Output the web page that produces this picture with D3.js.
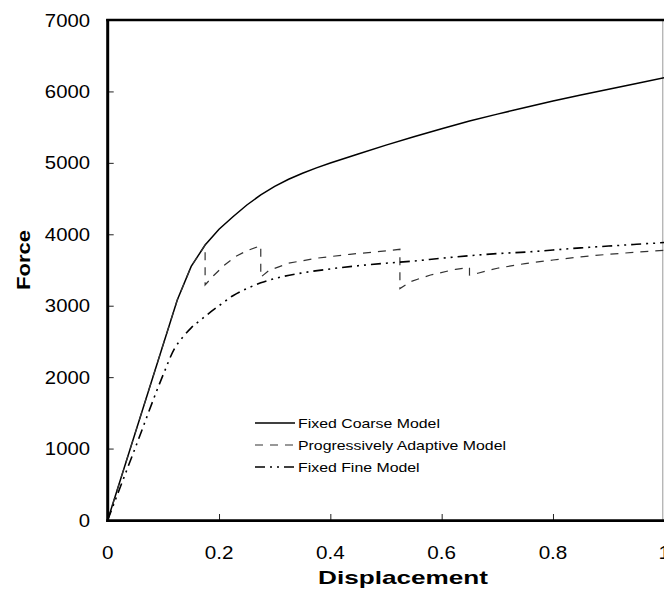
<!DOCTYPE html>
<html>
<head>
<meta charset="utf-8">
<script src="https://cdnjs.cloudflare.com/ajax/libs/d3/7.8.5/d3.min.js"></script>
<style>
  body { margin: 0; background: #fff; }
  text { font-family: "Liberation Sans", Arial, sans-serif; fill: #000; }
</style>
</head>
<body>
<script>
// values
var xTicks = [0, 0.2, 0.4, 0.6, 0.8, 1];
var yTicks = [0, 1000, 2000, 3000, 4000, 5000, 6000, 7000];

var coarseX = [0, 0.125, 0.15, 0.175, 0.2, 0.225, 0.25, 0.275, 0.3, 0.325, 0.35, 0.375, 0.4, 0.45, 0.5, 0.55, 0.6, 0.65, 0.7, 0.75, 0.8, 0.85, 0.9, 0.95, 1];
var coarseY = [0, 3080, 3550, 3850, 4070, 4246, 4410, 4552, 4670, 4770, 4855, 4930, 4998, 5125, 5248, 5365, 5478, 5585, 5682, 5775, 5865, 5950, 6032, 6112, 6192];

var adaptX = [0, 0.125, 0.15, 0.175, 0.175, 0.19, 0.21, 0.23, 0.25, 0.275, 0.275, 0.29, 0.325, 0.375, 0.435, 0.49, 0.525, 0.525, 0.545, 0.58, 0.625, 0.65, 0.65, 0.665, 0.7, 0.75, 0.8, 0.85, 0.9, 0.95, 1];
var adaptY = [0, 3080, 3550, 3850, 3290, 3420, 3570, 3690, 3770, 3840, 3400, 3495, 3595, 3665, 3720, 3760, 3790, 3240, 3340, 3430, 3510, 3535, 3430, 3455, 3525, 3590, 3640, 3685, 3720, 3750, 3775];

var fineX = [0, 0.05, 0.1, 0.12, 0.135, 0.15, 0.17, 0.2, 0.225, 0.25, 0.275, 0.3, 0.35, 0.4, 0.45, 0.5, 0.55, 0.6, 0.65, 0.7, 0.75, 0.8, 0.85, 0.9, 0.95, 1];
var fineY = [0, 1020, 2040, 2400, 2560, 2690, 2820, 3000, 3140, 3240, 3320, 3380, 3460, 3515, 3560, 3595, 3625, 3665, 3700, 3730, 3750, 3780, 3810, 3835, 3860, 3885];

var seriesNames = ["Fixed Coarse Model", "Progressively Adaptive Model", "Fixed Fine Model"];

var W = 664, H = 597;
var plotL = 107.7, plotR = 664.3, plotT = 20, plotB = 520;

var x = d3.scaleLinear().domain([0, 1]).range([plotL, plotR]);
var y = d3.scaleLinear().domain([0, 7000]).range([plotB, plotT]);

var svg = d3.select("body").append("svg")
    .attr("width", W)
    .attr("height", H);

function zip(xs, ys) { return xs.map(function(v, i) { return [v, ys[i]]; }); }

var series = [
  { name: seriesNames[0], data: zip(coarseX, coarseY), dash: null, color: "#000", w: 1.5, curve: d3.curveLinear },
  { name: seriesNames[1], data: zip(adaptX, adaptY), dash: "8,7", color: "#333", w: 1.2, curve: d3.curveLinear },
  { name: seriesNames[2], data: zip(fineX, fineY), dash: "10,5,2,5,2,5", color: "#000", w: 1.6, curve: d3.curveMonotoneX }
];

// text drawn a bit wider than the font, like the picture
function wideText(parent, px, py, sx, size, anchor, str, bold) {
  return parent.append("text")
    .attr("transform", "translate(" + px + "," + py + ") scale(" + sx + ",1)")
    .attr("text-anchor", anchor)
    .style("font-size", size + "px")
    .style("font-weight", bold ? "bold" : "normal")
    .text(str);
}

// right border of plot area (thin gray)
svg.append("line")
  .attr("x1", plotR - 1.5).attr("x2", plotR - 1.5)
  .attr("y1", plotT).attr("y2", plotB)
  .attr("stroke", "#999").attr("stroke-width", 1);

// curves
series.forEach(function(s) {
  var line = d3.line()
    .curve(s.curve)
    .x(function(d) { return x(d[0]); })
    .y(function(d) { return y(d[1]); });
  svg.append("path")
    .datum(s.data)
    .attr("d", line)
    .attr("fill", "none")
    .attr("stroke", s.color)
    .attr("stroke-width", s.w)
    .attr("stroke-dasharray", s.dash);
});

// y axis, ticks inward
var yAxis = svg.append("g")
  .attr("transform", "translate(" + plotL + ",0)")
  .call(d3.axisRight(y).tickValues(yTicks).tickSize(6).tickFormat(""));
yAxis.select(".domain").remove();
yAxis.selectAll(".tick line").attr("stroke", "#222");

yTicks.forEach(function(d) {
  wideText(svg, 90, y(d) + 6.5, 1.16, 17.5, "end", d);
});

// x axis, ticks inward
var xAxis = svg.append("g")
  .attr("transform", "translate(0," + plotB + ")")
  .call(d3.axisTop(x).tickValues(xTicks).tickSize(6).tickFormat(""));
xAxis.select(".domain").remove();
xAxis.selectAll(".tick line").attr("stroke", "#222");

xTicks.forEach(function(d) {
  wideText(svg, x(d), 559, 1.18, 17.5, "middle", d);
});

// heavy frame lines: left, bottom, top
svg.append("line").attr("x1", plotL).attr("x2", plotL).attr("y1", plotT - 1).attr("y2", plotB + 2)
  .attr("stroke", "#000").attr("stroke-width", 3);
svg.append("line").attr("x1", plotL - 1.5).attr("x2", plotR).attr("y1", plotB + 0.7).attr("y2", plotB + 0.7)
  .attr("stroke", "#000").attr("stroke-width", 2.7);
svg.append("line").attr("x1", plotL - 1.5).attr("x2", plotR).attr("y1", plotT).attr("y2", plotT)
  .attr("stroke", "#000").attr("stroke-width", 2.5);

// axis titles
svg.append("text")
  .attr("x", 403).attr("y", 584)
  .attr("text-anchor", "middle")
  .attr("textLength", 170).attr("lengthAdjust", "spacingAndGlyphs")
  .style("font-size", "19px").style("font-weight", "bold")
  .text("Displacement");

svg.append("text")
  .attr("transform", "translate(30,260) rotate(-90)")
  .attr("text-anchor", "middle")
  .attr("textLength", 60).attr("lengthAdjust", "spacingAndGlyphs")
  .style("font-size", "19px").style("font-weight", "bold")
  .text("Force");

// legend
var legend = svg.append("g");
var rowY = [423, 445, 467];
series.forEach(function(s, i) {
  legend.append("line")
    .attr("x1", 255).attr("x2", 295)
    .attr("y1", rowY[i]).attr("y2", rowY[i])
    .attr("stroke", s.color)
    .attr("stroke-width", s.w)
    .attr("stroke-dasharray", s.dash);
  wideText(legend, 298, rowY[i] + 4.6, 1.24, 12.8, "start", s.name);
});
</script>
</body>
</html>
